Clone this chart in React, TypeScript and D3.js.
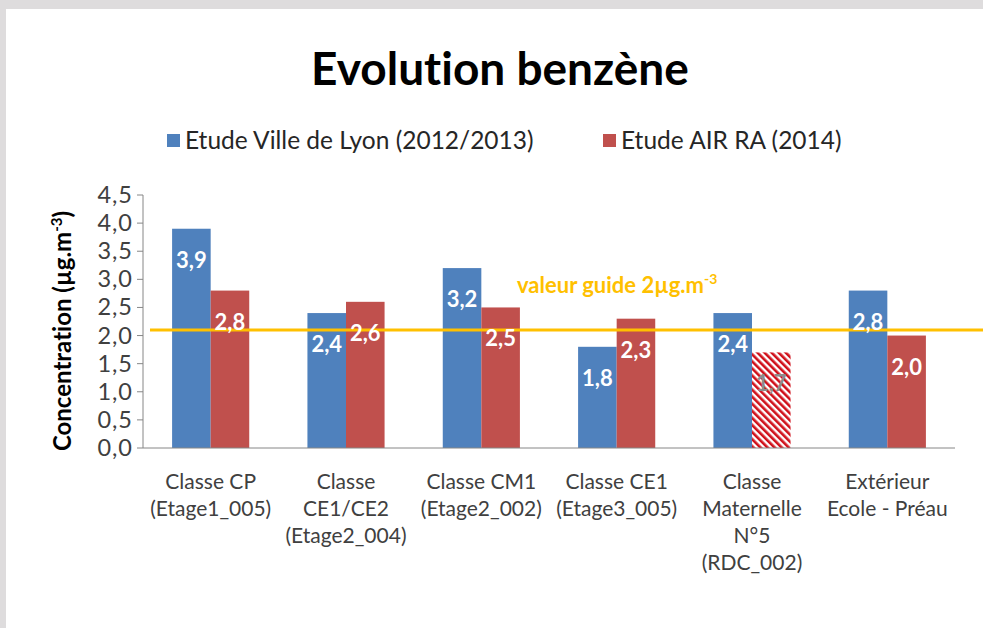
import React, { useEffect } from "react";
import * as d3 from "d3";

// categories, one entry per line of the axis label
const categories = [
  ["Classe CP", "(Etage1_005)"],
  ["Classe", "CE1/CE2", "(Etage2_004)"],
  ["Classe CM1", "(Etage2_002)"],
  ["Classe CE1", "(Etage3_005)"],
  ["Classe", "Maternelle", "N°5", "(RDC_002)"],
  ["Extérieur", "Ecole - Préau"],
];
const seriesNames = ["Etude Ville de Lyon (2012/2013)", "Etude AIR RA (2014)"];
const villeLyon = [3.9, 2.4, 3.2, 1.8, 2.4, 2.8];
const airRA = [2.8, 2.6, 2.5, 2.3, 1.7, 2.0];
const airRAHatched = [false, false, false, false, true, false];
const yTicks = [0, 0.5, 1, 1.5, 2, 2.5, 3, 3.5, 4, 4.5];
const guideLevel = 2.1;

const W = 983;
const H = 628;
const FONT = "Lato, 'Open Sans', sans-serif";
const BLUE = "#4f81bd";
const RED = "#c0504d";
const GOLD = "#ffc000";
const AXIS = "#868686";

const fmt = (v: number) => v.toFixed(1).replace(".", ",");

const App = () => {
  useEffect(() => {
    document.body.style.margin = "0";
  }, []);

  const keys = categories.map((c) => c.join(" "));
  const x0 = d3.scaleBand().domain(keys).range([143, 955]).paddingInner(0.43).paddingOuter(0.215);
  const x1 = d3.scaleBand().domain(["a", "b"]).range([0, x0.bandwidth()]);
  const y = d3.scaleLinear().domain([0, 4.5]).range([448, 195]);

  const bars: any[] = [];
  keys.forEach((k, i) => {
    bars.push({ k, s: "a", v: villeLyon[i], fill: BLUE, hatch: false });
    bars.push({ k, s: "b", v: airRA[i], fill: RED, hatch: airRAHatched[i] });
  });

  return (
    <svg
      width={W}
      height={H}
      style={{ position: "absolute", left: 0, top: 0, display: "block", fontVariantLigatures: "none" }}
      fontFamily={FONT}
    >
      <defs>
        <pattern id="hatch" width="5" height="5" patternUnits="userSpaceOnUse" patternTransform="rotate(-45)">
          <rect width="5" height="5" fill="#ffffff" />
          <rect width="2.6" height="5" fill="#d0101a" />
        </pattern>
      </defs>
      <rect width={W} height={H} fill="#dedcdd" />
      <rect x={6} y={9} width={W - 6} height={H - 9} fill="#ffffff" />

      <text x={500} y={85} textAnchor="middle" fontSize={46} fontWeight="bold" fill="#000">
        Evolution benzène
      </text>

      {/* legend */}
      {seriesNames.map((n, i) => {
        const lx = i === 0 ? 167 : 603;
        return (
          <g key={n}>
            <rect x={lx} y={134} width={13} height={13} fill={i === 0 ? BLUE : RED} />
            <text x={lx + 18} y={149} fontSize={24.5} fill="#262626">
              {n}
            </text>
          </g>
        );
      })}

      {/* y axis */}
      <line x1={143} x2={143} y1={y(4.5)} y2={y(0)} stroke={AXIS} />
      {yTicks.map((t) => (
        <g key={t}>
          <line x1={137} x2={143} y1={y(t)} y2={y(t)} stroke={AXIS} />
          <text x={133} y={y(t) + 8} textAnchor="end" fontSize={23.5} letterSpacing={1} fill="#404040">
            {fmt(t)}
          </text>
        </g>
      ))}
      <text transform={`translate(71,331) rotate(-90)`} textAnchor="middle" fontSize={24} fontWeight="bold" fill="#000">
        Concentration (µg.m<tspan dy={-9} fontSize={15}>-3</tspan>
        <tspan dy={9}>)</tspan>
      </text>

      {/* bars */}
      {bars.map((b) => (
        <rect
          key={b.k + b.s}
          x={(x0(b.k) as number) + (x1(b.s) as number)}
          y={y(b.v)}
          width={x1.bandwidth()}
          height={y(0) - y(b.v)}
          fill={b.hatch ? "url(#hatch)" : b.fill}
        />
      ))}

      {/* guide line */}
      <line x1={150} x2={W} y1={y(guideLevel)} y2={y(guideLevel)} stroke={GOLD} strokeWidth={3} />
      <text x={517} y={293} fontSize={22} fontWeight="bold" fill={GOLD}>
        valeur guide 2µg.m<tspan dy={-9} fontSize={14}>-3</tspan>
      </text>

      {/* value labels */}
      {bars.map((b) => (
        <text
          key={"l" + b.k + b.s}
          x={(x0(b.k) as number) + (x1(b.s) as number) + x1.bandwidth() / 2}
          y={y(b.v) + 39}
          textAnchor="middle"
          fontSize={22}
          fontWeight="bold"
          fill={b.hatch ? "#8c8c8c" : "#ffffff"}
        >
          {fmt(b.v)}
        </text>
      ))}

      {/* x axis */}
      <line x1={143} x2={955} y1={y(0)} y2={y(0)} stroke={AXIS} />
      {categories.map((c, i) => (
        <text key={keys[i]} x={(x0(keys[i]) as number) + x0.bandwidth() / 2} y={489} textAnchor="middle" fontSize={21} fill="#404040">
          {c.map((line, j) => (
            <tspan key={j} x={(x0(keys[i]) as number) + x0.bandwidth() / 2} dy={j === 0 ? 0 : 27}>
              {line}
            </tspan>
          ))}
        </text>
      ))}
    </svg>
  );
};

export default App;
